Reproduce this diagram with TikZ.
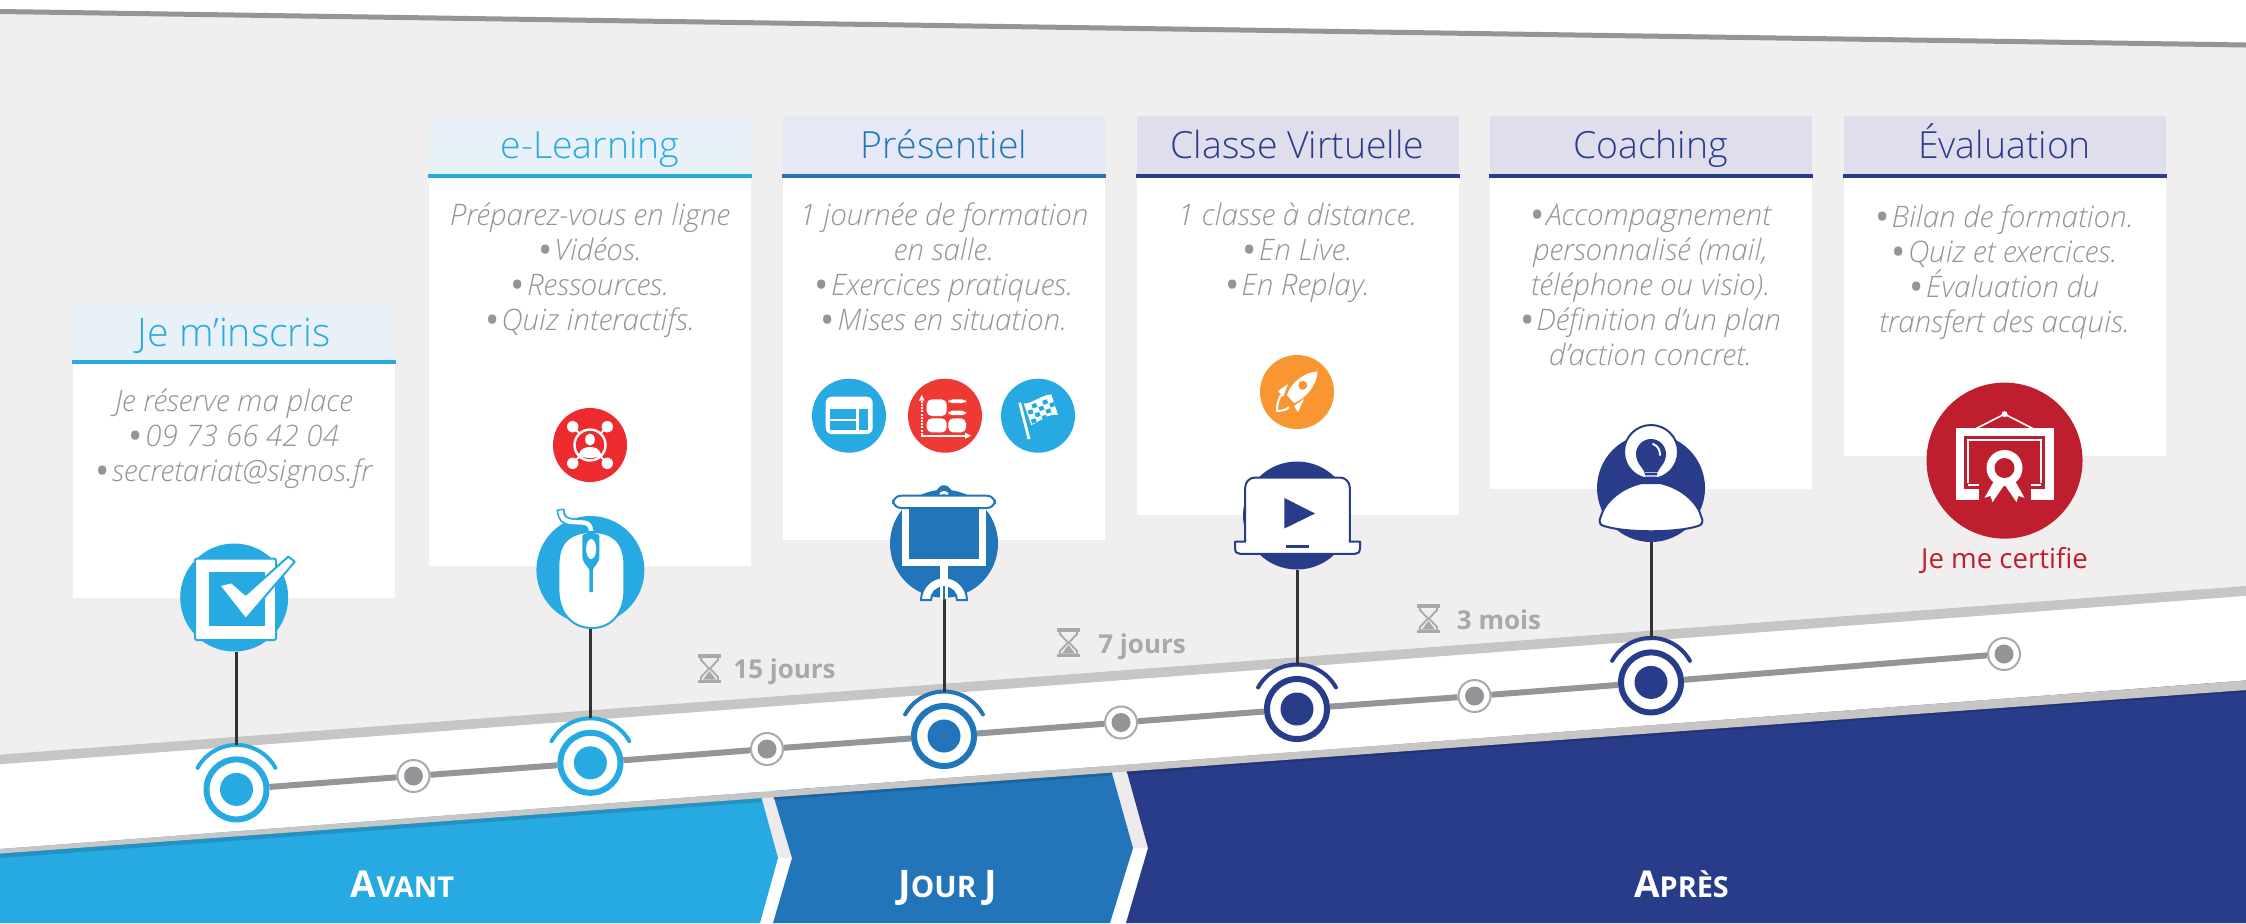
\documentclass[tikz,border=0pt]{standalone}
\usepackage{fontspec}
\setmainfont{Open Sans}
\newfontfamily\lightf{Open Sans}[UprightFont=* Light,ItalicFont=* Light Italic]
\definecolor{cA}{HTML}{27AAE1}
\definecolor{cB}{HTML}{2175B8}
\definecolor{cC}{HTML}{283C8A}
\definecolor{bgG}{HTML}{F0EEEF}
\definecolor{gapG}{HTML}{ECEAEB}
\definecolor{bandG}{HTML}{C8C6C4}
\definecolor{lineG}{HTML}{939598}
\definecolor{ringG}{HTML}{A7A9AC}
\definecolor{redA}{HTML}{ED2B2F}
\definecolor{redB}{HTML}{EF3935}
\definecolor{redC}{HTML}{BE1E2D}
\definecolor{orA}{HTML}{F89731}
\definecolor{hdA}{HTML}{E8F0F8}
\definecolor{hdB}{HTML}{E6E9F5}
\definecolor{hdC}{HTML}{E0DEEC}
\tikzset{
 stem/.style={draw=black!80,line width=1.5pt},
 tl/.style={draw=lineG,line width=3pt},
 bigring/.style={circle,draw=#1,fill=white,line width=3pt,minimum size=30pt,inner sep=0pt},
 smallring/.style={circle,draw=ringG,fill=white,line width=1pt,minimum size=16pt,inner sep=0pt},
 halo/.style={draw=#1,line width=2pt,line cap=round},
 bigicon/.style={circle,fill=#1,minimum size=54pt,inner sep=0pt},
 smallicon/.style={circle,fill=#1,minimum size=37pt,inner sep=0pt},
 title/.style={anchor=base,inner sep=0pt,font=\lightf\fontsize{18.7}{20}\selectfont,text=#1},
 body/.style={anchor=north,inner sep=0pt,align=center,text=lineG,font=\lightf\itshape\fontsize{14.8}{17.5}\selectfont},
 delay/.style={anchor=base west,inner sep=0pt,text=ringG,font=\bfseries\fontsize{13}{16}\selectfont},
 phase/.style={anchor=base,inner sep=0pt,text=white,font=\bfseries},
}
\newcommand{\fs}{\rule{0pt}{12pt}}
\newcommand{\bl}{\raisebox{-1.5pt}{\rmfamily\upshape\fontsize{19}{19}\selectfont\textbullet}\kern1pt}
\newcommand{\card}[6]{% x1 x2 bottom top fill line
 \fill[white] (#1,#4) rectangle (#2,#3);
 \fill[#5] (#1,#4) rectangle (#2,#4+60);
 \fill[#6] (#1-1,#4+58) rectangle (#2+1,#4+62);
}
\newcommand{\hourglass}[2]{%
 \begin{scope}[shift={(#1,#2)}]
 \fill[ringG] (0,0) rectangle (23,3.5);
 \fill[ringG] (0,25.5) rectangle (23,29);
 \draw[ringG,line width=.9pt] (3,3) -- (3,6) -- (11,14.5) -- (3,23) -- (3,26);
 \draw[ringG,line width=.9pt] (20,3) -- (20,6) -- (12,14.5) -- (20,23) -- (20,26);
 \fill[ringG] (11.5,17) -- (18,25.5) -- (5,25.5) -- cycle;
 \end{scope}}
\begin{document}
\begin{tikzpicture}[x=0.5pt,y=-0.5pt]
\useasboundingbox (0,0) rectangle (2246,923);
\fill[bgG] (0,0) rectangle (2246,923);
\fill[white] (0,0) -- (2246,0) -- (2246,45) -- (0,12) -- cycle;
\draw[lineG,line width=2.5pt] (0,11.5) -- (2246,45);
% band
\fill[bandG] (0,754.6) -- (2246,586) -- (2246,596) -- (0,764.4) -- cycle;
\fill[white] (0,764.4) -- (2246,596) -- (2246,923) -- (0,923) -- cycle;
% gaps upper (grey)
\fill[gapG] (760,792) -- (778,858) -- (792,858) -- (772,791) -- cycle;
\fill[gapG] (1110,766) -- (1133,848) -- (1148,848) -- (1125,765) -- cycle;
% chevrons
\fill[cA] (0,849) -- (760,792) -- (778,858) -- (760,923) -- (0,923) -- cycle;
\fill[cB] (772,791) -- (792,858) -- (773,923) -- (1110,923) -- (1133,848) -- (1110,766) -- cycle;
\fill[cC] (1125,765) -- (1148,848) -- (1126,923) -- (2246,923) -- (2246,680.5) -- cycle;
\fill[black,opacity=.14] (0,853.5) -- (760,796.5) -- (761,802) -- (0,858) -- cycle;
\fill[black,opacity=.14] (772,795.5) -- (1110,770) -- (1111.5,775.5) -- (773.5,800) -- cycle;
\fill[black,opacity=.14] (1125,769) -- (2246,688) -- (2246,692) -- (1126.5,774) -- cycle;
\fill[bandG] (0,849) -- (2246,680.5) -- (2246,690) -- (0,853.5) -- cycle;
% cards
\card{73}{395}{597.5}{302}{hdA}{cA}
\card{429}{751}{565.5}{116}{hdA}{cA}
\card{783}{1105}{539.5}{116}{hdB}{cB}
\card{1137}{1459}{514.5}{116}{hdC}{cC}
\card{1490}{1812}{489}{116}{hdC}{cC}
\card{1844}{2166}{455.5}{116}{hdC}{cC}
% timeline nodes
\node[bigring=cA] (r1) at (236.5,789.4) {};
\node[smallring] (s1) at (413.5,776) {};
\node[bigring=cA] (r2) at (590.4,762.8) {};
\node[smallring] (s2) at (767,749) {};
\node[bigring=cB] (r3) at (944,736) {};
\node[smallring] (s3) at (1121,722.5) {};
\node[bigring=cC] (r4) at (1297,709) {};
\node[smallring] (s4) at (1474.5,696) {};
\node[bigring=cC] (r5) at (1651,682.4) {};
\node[smallring] (s5) at (2004,654) {};
\draw[tl] (r1) -- (s1); \draw[tl] (s1) -- (r2); \draw[tl] (r2) -- (s2); \draw[tl] (s2) -- (r3);
\draw[tl] (r3) -- (s3); \draw[tl] (s3) -- (r4); \draw[tl] (r4) -- (s4); \draw[tl] (s4) -- (r5);
\draw[tl] (r5) -- (s5);
\foreach \n/\c in {r1/cA,r2/cA,r3/cB,r4/cC,r5/cC}{
 \fill[\c] (\n) circle[radius=16.5];
 \draw[halo=\c] (\n) ++(209:44.5) arc[start angle=209,end angle=331,radius=44.5];
 \path (\n) ++(270:44.5) coordinate (\n t);
}
\foreach \n in {s1,s2,s3,s4,s5}{ \fill[lineG] (\n) circle[radius=9.5]; }
% big icons
\node[bigicon=cA] (i1) at (234.2,597.5) {};
\node[bigicon=cA] (i2) at (590.4,570) {};
\node[bigicon=cB] (i3) at (944,543.7) {};
\node[bigicon=cC] (i4) at (1297,515.5) {};
\node[bigicon=cC] (i5) at (1651,488) {};
\node[circle,fill=redC,minimum size=78pt,inner sep=0pt] (i6) at (2004.5,460.6) {};
\draw[stem] (r1t |- i1.south) -- (r1t);
\draw[stem] (i2.south) -- (r2t);
\draw[stem] (i3.south) -- (r3t);
\draw[stem] (i4.south) -- (r4t);
\draw[stem] (i5.south) -- (r5t);
% check icon
\begin{scope}[shift={(236.5,597.5)}]
 \filldraw[fill=white,draw=cA,line width=1pt,rounded corners=1pt] (-41.5,-39) rectangle (39.5,42.5);
 \fill[cA] (-28,-25.5) rectangle (28,28.5);
 \filldraw[fill=white,draw=cA,line width=1pt,line join=round] (-17.5,-12.3) -- (-4.8,-15.2) -- (9.2,-2.9) -- (51.9,-41) -- (58.2,-35.7) -- (9.2,21.7) -- cycle;
\end{scope}
% mouse icon
\begin{scope}[shift={(590.4,570)}]
 \draw[cA,line width=4pt,line cap=butt] (1,-34) .. controls (1,-50) and (-5,-47) .. (-18,-48) .. controls (-26,-49) and (-29,-51) .. (-30,-61);
 \draw[white,line width=2.2pt] (1,-34) .. controls (1,-50) and (-5,-47) .. (-18,-48) .. controls (-26,-49) and (-29,-51) .. (-30,-59.5);
 \filldraw[fill=white,draw=cA,line width=1pt] (1.5,-38) .. controls (20,-38) and (34,-30) .. (34,-5) -- (34,20) .. controls (34,42) and (22,58) .. (1.5,58) .. controls (-19,58) and (-32,42) .. (-32,20) -- (-32,-5) .. controls (-32,-30) and (-18,-38) .. (1.5,-38) -- cycle;
 \fill[cA] (-8,-34) .. controls (-8,-38) and (9,-38) .. (9,-34) -- (9,-14) .. controls (9,-6) and (3,-4) .. (2.5,0) -- (2.5,22) -- (-1,22) -- (-1,0) .. controls (-2,-4) and (-8,-6) .. (-8,-14) -- cycle;
 \fill[white] (.7,-21) ellipse[x radius=5,y radius=10];
\end{scope}
% projector icon
\begin{scope}[shift={(944,543.7)}]
 \fill[cB] (-21,-47) .. controls (-12,-50) and (-8,-52) .. (-6,-55) arc[start angle=210,end angle=330,radius=7] .. controls (8,-52) and (12,-50) .. (21,-47) -- cycle;
 \fill[white] (0,-48) circle[radius=5];
 \fill[cB] (0,-47) circle[radius=2.5];
 \fill[white] (-42,-36) rectangle (42,22);
 \fill[cB] (-35.4,-36) rectangle (35.4,15.6);
 \filldraw[fill=white,draw=cB,line width=1pt,rounded corners=4pt] (-51,-48) rectangle (51,-35.7);
 \fill[white] (-4.4,22) rectangle (4.4,55);
 \filldraw[fill=white,draw=cB,line width=1pt] (-23,56.5) arc[start angle=180,end angle=360,radius=23] -- (13,56.5) arc[start angle=360,end angle=180,radius=13] -- cycle;
 \fill[white] (-4.4,28) rectangle (4.4,55);
 \draw[cB,line width=.8pt] (0,42) -- (0,56);
\end{scope}
% laptop icon
\begin{scope}[shift={(1297,515.5)}]
 \filldraw[fill=white,draw=cC,line width=1pt,rounded corners=5pt] (-51.8,32) -- (-51.8,-38) -- (52.8,-38) -- (52.8,32);
 \filldraw[fill=white,draw=cC,line width=1pt,line join=round] (-62,26) -- (-50,26) -- (-50,28) -- (51,28) -- (51,26) -- (63,26) -- (63,32) .. controls (63,37) and (61,38.3) .. (58,38.3) -- (-57,38.3) .. controls (-60,38.3) and (-62,37) .. (-62,32) -- cycle;
 \fill[white] (-51,25) rectangle (52,30);
 \fill[cC] (-12.6,-17.5) -- (18,-2) -- (-12.6,13) -- cycle;
 \fill[cC] (-11,29) rectangle (11.6,32.7);
\end{scope}
% bulb person icon
\begin{scope}[shift={(1651,488)}]
 \filldraw[fill=white,draw=cC,line width=1pt] (0,-36) circle[radius=27];
 \fill[cC] (-6,-6) -- (-6,-14) .. controls (-7,-20) and (-15,-24) .. (-15,-34) arc[start angle=180,end angle=360,radius=15] .. controls (15,-24) and (7,-20) .. (6,-14) -- (6,-6) .. controls (4,-7.5) and (-4,-7.5) .. (-6,-6) -- cycle;
 \fill[white,opacity=.65] (-6.5,-16.5) rectangle (6.5,-15);
 \fill[white,opacity=.65] (-6.5,-13) rectangle (6.5,-11.5);
 \draw[white,line width=1pt,line cap=round] (2,-44) .. controls (7,-42) and (9,-38) .. (9,-33);
 \filldraw[fill=white,draw=cC,line width=1pt] (-9,-5) .. controls (-32,0) and (-47,16) .. (-50,28) .. controls (-53,34) and (-51,37) .. (-47,38) .. controls (-25,45) and (25,45) .. (47,38) .. controls (51,37) and (53,34) .. (50,28) .. controls (47,16) and (32,0) .. (9,-5) -- cycle;
\end{scope}
% certificate icon
\begin{scope}[shift={(2004.5,460.6)}]
 \draw[white,line width=.8pt] (-28.5,-32) -- (0,-46.5) -- (28.5,-32);
 \fill[white] (0,-46.5) circle[radius=3];
 \fill[white] (-49,-32.3) rectangle (49,39);
 \fill[redC] (-40.5,-25) rectangle (40.5,28);
 \draw[white,line width=.9pt] (-36.5,28) -- (-36.5,-21) -- (36.5,-21) -- (36.5,28);
 \fill[redC] (-26,26) rectangle (26,40);
 \fill[redC] (-40.5,22.5) rectangle (40.5,28);
 \draw[white,line width=.9pt] (-36.5,24.5) -- (-26,24.5) (26,24.5) -- (36.5,24.5);
 \fill[white] (-9.5,18.6) -- (0,24) -- (-12,41.6) -- (-14,35.3) -- (-20,37.2) -- cycle;
 \fill[white] (9.5,18.6) -- (0,24) -- (12,41.6) -- (14,35.3) -- (20,37.2) -- cycle;
 \draw[redC,line width=.5pt] (-10.5,17) -- (0,25) -- (10.5,17);
 \fill[white] (0,7.4) circle[radius=18];
 \fill[redC] (0,7.4) circle[radius=10];
\end{scope}
% small icons
\node[smallicon=redA] (n1) at (590,445) {};
\node[smallicon=cA] (n2) at (849,415.7) {};
\node[smallicon=redB] (n3) at (945,415.7) {};
\node[smallicon=cA] (n4) at (1038,415.7) {};
\node[smallicon=orA] (n5) at (1297,392) {};
\begin{scope}[shift={(590,445)}]
 \draw[white,line width=1.2pt] (0,0) circle[radius=15.5];
 \foreach \sx in {-1,1}{\foreach \sy in {-1,1}{
   \fill[white] (\sx*17.3,\sy*18.3) circle[radius=5.7];
   \draw[white,line width=1pt] (\sx*17.3,\sy*18.3) -- (\sx*10,\sy*11);
 }}
 \fill[white] (0,-5.5) ellipse[x radius=4.8,y radius=6];
 \fill[white] (-11,10) .. controls (-10,3) and (-4,2) .. (0,2) .. controls (4,2) and (10,3) .. (11,10) .. controls (6,14) and (-6,14) .. (-11,10) -- cycle;
\end{scope}
\begin{scope}[shift={(849,415.7)}]
 \fill[white,rounded corners=3pt] (-23.3,-19) rectangle (23.7,18.3);
 \fill[cA] (-19,-6.7) rectangle (7,3.3);
 \fill[cA] (-19,5) rectangle (7,14.3);
 \fill[cA] (10.3,-6.7) rectangle (19.3,14.3);
\end{scope}
\begin{scope}[shift={(945,415.7)}]
 \draw[white,line width=1.2pt,dash pattern=on 1pt off .6pt] (-23.3,19) -- (-23.3,-17);
 \fill[white] (-23.3,-21) -- (-20.5,-15) -- (-26,-15) -- cycle;
 \draw[white,line width=1pt] (-24,20) -- (21,20);
 \fill[white] (26,20) -- (20,17) -- (20,23) -- cycle;
 \fill[white,rounded corners=2.5pt] (-18.3,-16.3) rectangle (1.7,0.3);
 \fill[white,rounded corners=2pt] (3.3,-16.3) rectangle (21,-12.5);
 \fill[white,rounded corners=2pt] (3.3,-5) rectangle (21,-.5);
 \fill[white,rounded corners=2.5pt] (-18.3,2.7) rectangle (1.7,16.7);
 \fill[white,rounded corners=2.5pt] (3.3,2.7) rectangle (21,16.7);
\end{scope}
\begin{scope}[shift={(1038,415.7)}]
 \draw[white,line width=1.4pt] (-18.3,-13) -- (-9,23.3);
 \fill[white] (-14.3,-12.3) .. controls (-8,-11) and (4,-21) .. (13.3,-21.3) -- (20,-.7) .. controls (10,-3) and (0,7) .. (-6.7,9.3) -- cycle;
 \foreach \a/\b in {1/0,3/0,0/1,2/1,4/1,1/2,3/2,0/3,2/3}{
   \fill[cA] ({-12+\a*5.4+\b*1.6},{-9.5-\a*1.8+\b*4.5}) -- ++(4.6,-1.5) -- ++(1.4,4) -- ++(-4.6,1.5) -- cycle;
 }
\end{scope}
\begin{scope}[shift={(1297,392)}]
 \fill[white] (20.5,-20.5) .. controls (8,-20) and (-6,-10) .. (-10,3) -- (-3,11) .. controls (10,6) and (20,-8) .. (20.5,-20.5) -- cycle;
 \fill[orA] (5.8,-6.7) circle[radius=4.5];
 \fill[white] (-9,-8) -- (-19,-1) -- (-14,5) -- cycle;
 \fill[white] (7,7) -- (-3,14) -- (1,20) -- cycle;
 \draw[white,line width=1pt] (-16,3) .. controls (-20,10) and (-20,16) .. (-20,19) .. controls (-16,19) and (-10,18) .. (-8,15);
\end{scope}
% hourglasses and delays
\hourglass{698}{654}
\node[delay] (d1) at (733,678) {15 jours};
\hourglass{1057}{628}
\node[delay] (d2) at (1098,653.5) {7 jours};
\hourglass{1417}{604}
\node[delay] (d3) at (1456.5,629) {3 mois};
% titles
\node[title=cA] (t1) at (234,346.5) {\fontsize{19.6}{20}\selectfont Je m’inscris};
\node[title=cA] (t2) at (590,158.5) {e-Learning};
\node[title=cB] (t3) at (944,158.5) {Présentiel};
\node[title=cC] (t4) at (1297.5,158.5) {Classe Virtuelle};
\node[title=cC] (t5) at (1650.5,158.5) {Coaching};
\node[title=cC] (t6) at (2004.5,158.5) {Évaluation};
% bodies
\node[body] (b1) at (234,387) {\fs Je réserve ma place\\\bl 09 73 66 42 04\\\bl secretariat@signos.fr};
\node[body] (b2) at (590,201) {\fs Préparez-vous en ligne\\\bl Vidéos.\\\bl Ressources.\\\bl Quiz interactifs.};
\node[body] (b3) at (944,201) {\fs 1 journée de formation\\en salle.\\\bl Exercices pratiques.\\\bl Mises en situation.};
\node[body] (b4) at (1297.5,201) {\fs 1 classe à distance.\\\bl En Live.\\\bl En Replay.};
\node[body] (b5) at (1650.5,201) {\fs \bl Accompagnement\\personnalisé (mail,\\téléphone ou visio).\\\bl Définition d’un plan\\d’action concret.};
\node[body] (b6) at (2004.5,203) {\fs \bl Bilan de formation.\\\bl Quiz et exercices.\\\bl Évaluation du\\transfert des acquis.};
\node[anchor=base,inner sep=0pt,text=redC,font=\fontsize{13.8}{16}\selectfont] (cert) at (2004.5,568.6) {Je me certifie};
% phases
\node[phase] (p1) at (402.5,897) {\fontsize{18.5}{20}\selectfont A\fontsize{14.4}{20}\selectfont VANT};
\node[phase] (p2) at (947.5,897) {\fontsize{19}{20}\selectfont J\fontsize{14.8}{20}\selectfont OUR \fontsize{19}{20}\selectfont J};
\node[phase] (p3) at (1681.5,897) {\fontsize{18.5}{20}\selectfont A\fontsize{14.4}{20}\selectfont PRÈS};
\end{tikzpicture}
\end{document}
